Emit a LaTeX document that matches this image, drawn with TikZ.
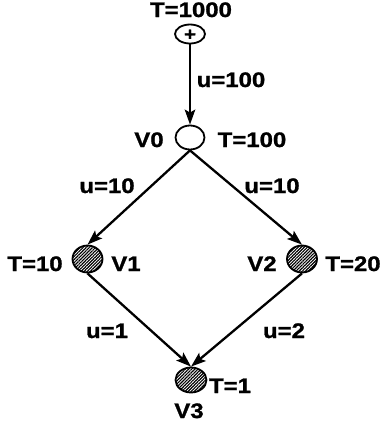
\documentclass[tikz,border=0pt]{standalone}
\usepackage{fontspec}
\setmainfont{Liberation Sans}[FakeStretch=1.14,FakeBold=1.2]
\usetikzlibrary{arrows.meta,patterns.meta,shapes.geometric}
\begin{document}
\begin{tikzpicture}[x=1pt,y=-1pt,
  lbl/.style={font=\fontsize{21}{22}\selectfont\bfseries, inner sep=0pt, anchor=base},
  vert/.style={ellipse, draw, line width=1.8pt, inner sep=0pt},
  hatched/.style={vert, fill=white, postaction={pattern={Lines[angle=45,distance=2.2pt,line width=1.15pt]}}},
  flow/.style={line width=2.3pt, -{Stealth[length=15pt,width=10.5pt,inset=3pt]}}
]
\useasboundingbox (0,0) rectangle (383,424);
% source and vertices
\node[vert, minimum width=30pt, minimum height=19pt] (src) at (190,34) {};
\node[font=\fontsize{18}{18}\selectfont\bfseries, inner sep=0pt] (plus) at (190,35) {+};
\node[vert, minimum width=29pt, minimum height=24pt] (v0) at (190,137.5) {};
\node[hatched, minimum width=30pt, minimum height=27pt] (v1) at (87.5,259) {};
\node[hatched, minimum width=30pt, minimum height=27pt] (v2) at (302,259) {};
\node[hatched, minimum width=31pt, minimum height=25pt] (v3) at (191,380) {};
% labels
\node[lbl] (tsrc) at (191,17) {T=1000};
\node[lbl] (u0) at (231,87) {u=100};
\node[lbl] (n0) at (149,147) {V0};
\node[lbl] (t0) at (252,147) {T=100};
\node[lbl] (u1) at (107,193) {u=10};
\node[lbl] (u2) at (272,193) {u=10};
\node[lbl] (t1) at (35,271) {T=10};
\node[lbl] (n1) at (126,271) {V1};
\node[lbl] (n2) at (262,271) {V2};
\node[lbl] (t2) at (353,271) {T=20};
\node[lbl] (u3) at (107,338) {u=1};
\node[lbl] (u4) at (284,338) {u=2};
\node[lbl] (t3) at (230,393) {T=1};
\node[lbl] (n3) at (189,418) {V3};
% connectors
\draw[flow] (src.south) -- (v0.north);
\draw[flow] (v0.south) -- (v1.north);
\draw[flow] (v0.south) -- (v2.north);
\draw[flow] (v1.south) -- (v3.north);
\draw[flow] (v2.south) -- (v3.north);
\end{tikzpicture}
\end{document}
